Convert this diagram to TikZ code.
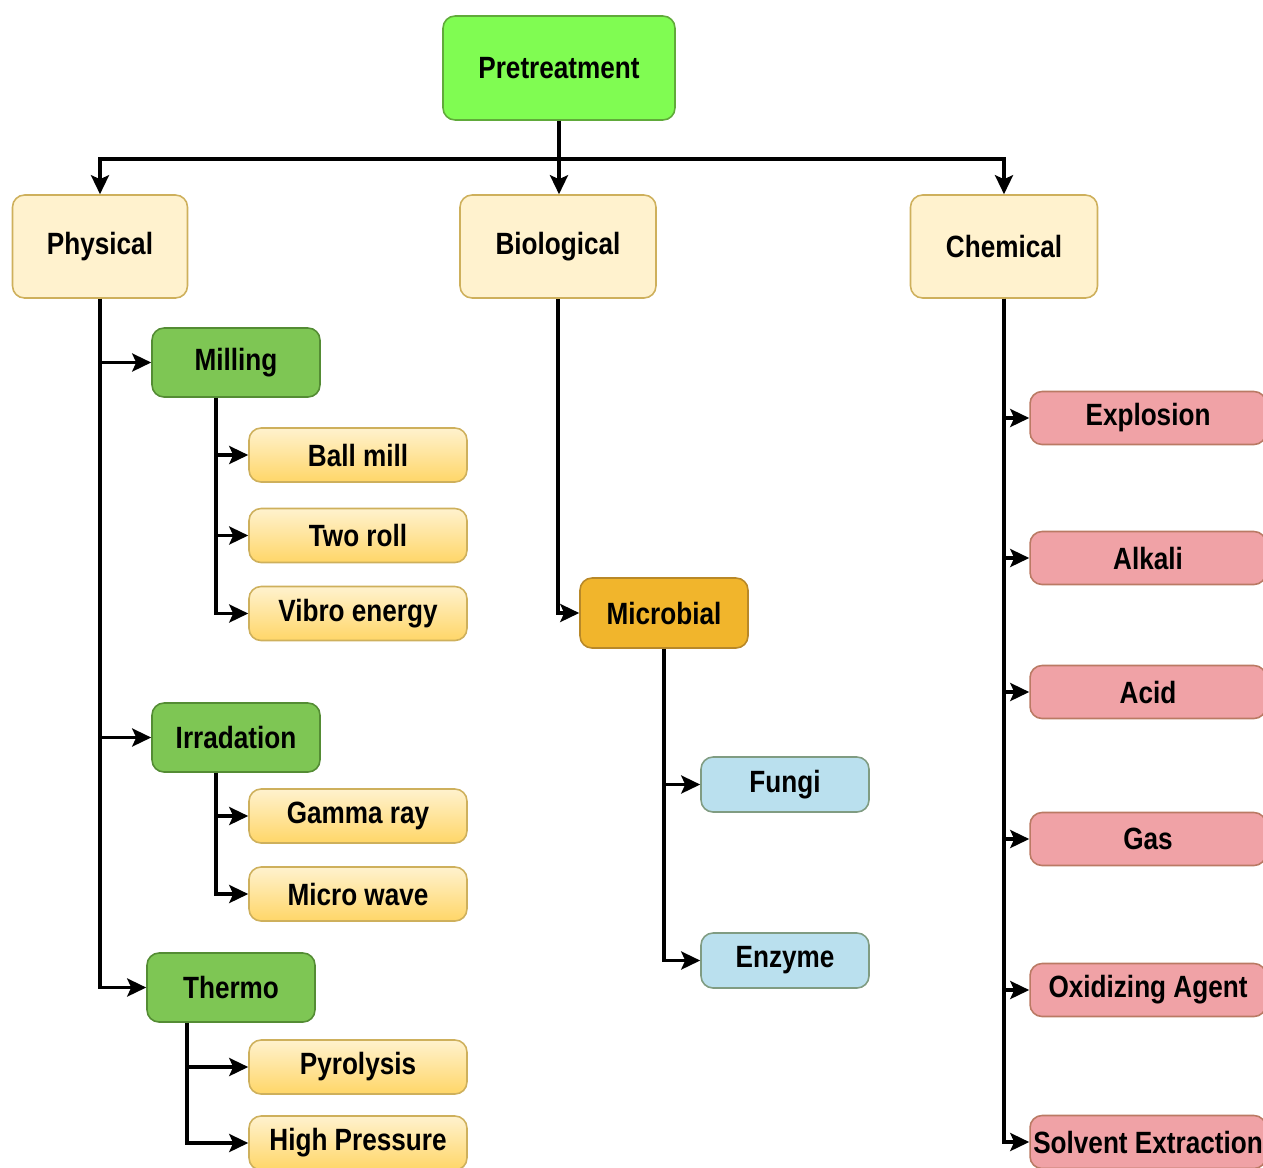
\documentclass[tikz,border=0pt]{standalone}
\usepackage{fontspec}
\setmainfont{Liberation Sans}[FakeStretch=0.85]
\usetikzlibrary{arrows.meta,calc,positioning}
\definecolor{pregreen}{RGB}{128,252,82}
\definecolor{pregreenD}{RGB}{96,170,58}
\definecolor{beige}{RGB}{255,242,206}
\definecolor{beigeD}{RGB}{206,176,92}
\definecolor{gold}{RGB}{255,214,104}
\definecolor{milgreen}{RGB}{126,198,84}
\definecolor{milgreenD}{RGB}{84,140,52}
\definecolor{orangeM}{RGB}{241,181,44}
\definecolor{orangeD}{RGB}{184,136,40}
\definecolor{blueL}{RGB}{186,224,238}
\definecolor{blueD}{RGB}{128,156,130}
\definecolor{pinkC}{RGB}{240,162,166}
\definecolor{pinkD}{RGB}{186,122,100}
\begin{document}
\begin{tikzpicture}[x=0.02cm,y=-0.02cm,
    box/.style={draw,rounded corners=0.24cm,line width=0.9pt,inner sep=1pt,
      font=\fontsize{17.5}{20}\selectfont\bfseries},
    topbox/.style={box,fill=pregreen,draw=pregreenD,minimum width=4.64cm,minimum height=2.08cm},
    catbox/.style={box,fill=beige,draw=beigeD,minimum height=2.06cm},
    subbox/.style={box,fill=milgreen,draw=milgreenD,minimum width=3.36cm,minimum height=1.38cm},
    leafbox/.style={box,top color=beige,bottom color=gold,draw=beigeD,minimum width=4.36cm,minimum height=1.08cm},
    microbox/.style={box,fill=orangeM,draw=orangeD,minimum width=3.36cm,minimum height=1.4cm},
    bluebox/.style={box,fill=blueL,draw=blueD,minimum width=3.36cm,minimum height=1.1cm},
    pinkbox/.style={box,fill=pinkC,draw=pinkD,minimum width=4.72cm,minimum height=1.06cm},
    arr/.style={line width=2pt,-{Stealth[length=0.38cm,width=0.36cm,inset=0.08cm]}}]
    \clip (0,0) rectangle (1263,1167);
    %上段
    \node[topbox] (pre) at (559,68) {Pretreatment};
    \node[catbox,minimum width=3.5cm] (phys) at (100,246.5) {Physical};
    \node[catbox,minimum width=3.92cm] (bio) at (558,246.5) {Biological};
    \node[catbox,minimum width=3.74cm] (chem) at (1004,246.5) {Chemical};
    %物理
    \node[subbox] (mill) at (236,362.5) {Milling};
    \node[leafbox] (ball) at (358,455) {Ball mill};
    \node[leafbox] (two) at (358,535.5) {Two roll};
    \node[leafbox] (vibro) at (358,613.5) {Vibro energy};
    \node[subbox] (irr) at (236,737.5) {Irradation};
    \node[leafbox] (gamma) at (358,816) {Gamma ray};
    \node[leafbox] (wave) at (358,894) {Micro wave};
    \node[subbox] (thermo) at (231,987.5) {Thermo};
    \node[leafbox] (pyro) at (358,1067) {Pyrolysis};
    \node[leafbox] (high) at (358,1143) {High Pressure};
    %生物
    \node[microbox] (microb) at (664,613) {Microbial};
    \node[bluebox] (fungi) at (785,784.5) {Fungi};
    \node[bluebox] (enzyme) at (785,960.5) {Enzyme};
    %化学
    \node[pinkbox] (expl) at (1148,418) {Explosion};
    \node[pinkbox] (alk) at (1148,558) {Alkali};
    \node[pinkbox] (acid) at (1148,692) {Acid};
    \node[pinkbox] (gas) at (1148,839) {Gas};
    \node[pinkbox] (oxid) at (1148,990) {Oxidizing Agent};
    \node[pinkbox] (solv) at (1148,1142) {Solvent Extraction};
    %矢印
    \draw[arr] (pre.south) -- ++(0,38) -| (phys.north);
    \draw[arr] (pre.south) -- (pre.south |- bio.north);
    \draw[arr] (pre.south) -- ++(0,38) -| (chem.north);
    \draw[arr] (phys.south) |- (mill.west);
    \draw[arr] (phys.south) |- (irr.west);
    \draw[arr] (phys.south) |- (thermo.west);
    \draw[arr] ([xshift=-0.4cm]mill.south) |- (ball.west);
    \draw[arr] ([xshift=-0.4cm]mill.south) |- (two.west);
    \draw[arr] ([xshift=-0.4cm]mill.south) |- (vibro.west);
    \draw[arr] ([xshift=-0.4cm]irr.south) |- (gamma.west);
    \draw[arr] ([xshift=-0.4cm]irr.south) |- (wave.west);
    \draw[arr] ([xshift=-0.88cm]thermo.south) |- (pyro.west);
    \draw[arr] ([xshift=-0.88cm]thermo.south) |- (high.west);
    \draw[arr] (bio.south) |- (microb.west);
    \draw[arr] (microb.south) |- (fungi.west);
    \draw[arr] (microb.south) |- (enzyme.west);
    \foreach \n in {expl,alk,acid,gas,oxid,solv}
      \draw[arr] (chem.south) |- (\n.west);
\end{tikzpicture}
\end{document}
